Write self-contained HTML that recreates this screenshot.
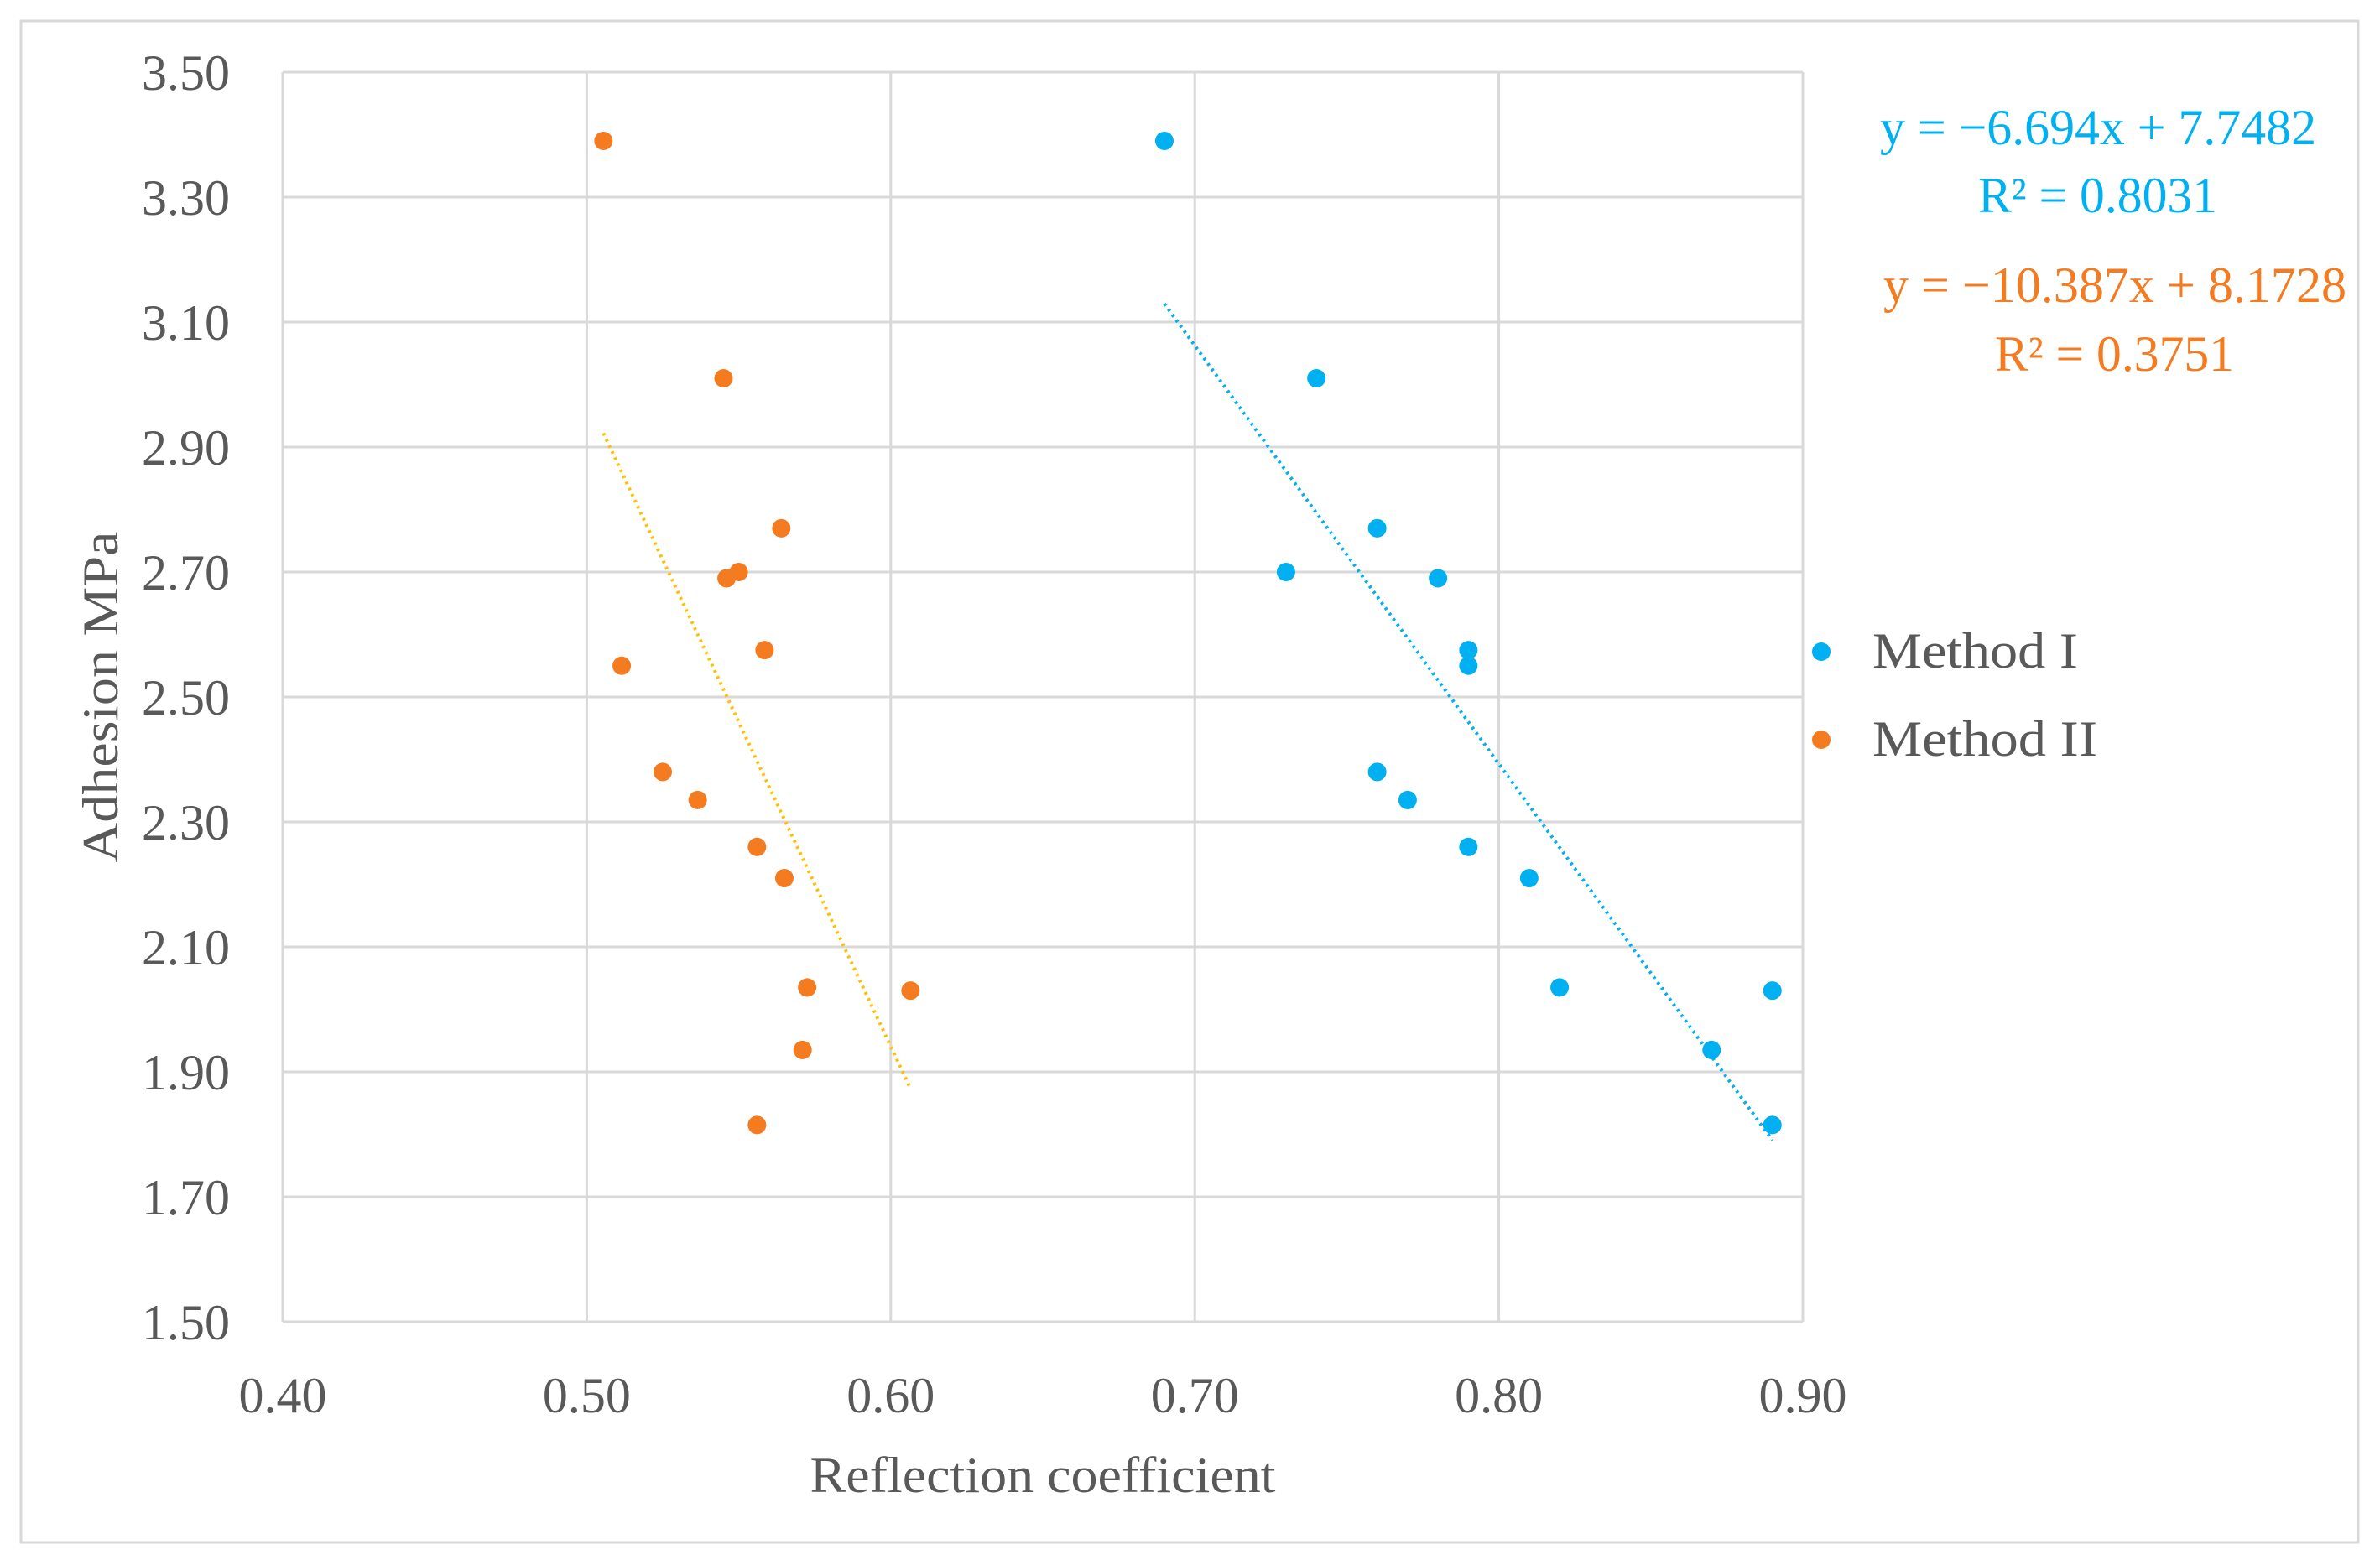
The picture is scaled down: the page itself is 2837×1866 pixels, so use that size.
<!DOCTYPE html>
<html><head><meta charset="utf-8"><style>
html,body{margin:0;padding:0;background:#fff;}
svg{display:block;font-family:"Liberation Serif",serif;}
</style></head><body>
<svg id="chart" width="2837" height="1866" viewBox="0 0 2837 1866" xmlns="http://www.w3.org/2000/svg">
<rect x="25" y="25" width="2786" height="1814" fill="#fff" stroke="#d9d9d9" stroke-width="3"/>
<g id="grid"></g>
<g id="marks"></g>
<g id="labels"></g>
<text x="1243" y="1779" font-size="60" fill="#595959" text-anchor="middle" textLength="555" lengthAdjust="spacingAndGlyphs">Reflection coefficient</text>
<text transform="translate(140,831) rotate(-90)" font-size="60" fill="#595959" text-anchor="middle" textLength="395" lengthAdjust="spacingAndGlyphs">Adhesion MPa</text>
<circle cx="2171" cy="777" r="11" fill="#00B0F0"/>
<text x="2232" y="796" font-size="60" fill="#595959" textLength="245" lengthAdjust="spacingAndGlyphs">Method I</text>
<circle cx="2171" cy="882" r="11" fill="#F47B20"/>
<text x="2232" y="901" font-size="60" fill="#595959" textLength="268" lengthAdjust="spacingAndGlyphs">Method II</text>
<text x="2241" y="172" font-size="60" fill="#00B0F0" textLength="520" lengthAdjust="spacingAndGlyphs">y = −6.694x + 7.7482</text>
<text x="2358" y="253" font-size="60" fill="#00B0F0" textLength="285" lengthAdjust="spacingAndGlyphs">R² = 0.8031</text>
<text x="2245" y="360" font-size="60" fill="#F47B20" textLength="552" lengthAdjust="spacingAndGlyphs">y = −10.387x + 8.1728</text>
<text x="2378" y="442" font-size="60" fill="#F47B20" textLength="285" lengthAdjust="spacingAndGlyphs">R² = 0.3751</text>
</svg>
<script>
const xTicks = [0.40, 0.50, 0.60, 0.70, 0.80, 0.90];
const yTicks = [1.50, 1.70, 1.90, 2.10, 2.30, 2.50, 2.70, 2.90, 3.10, 3.30, 3.50];
const method1X = [0.69, 0.74, 0.76, 0.73, 0.78, 0.79, 0.79, 0.76, 0.77, 0.79, 0.81, 0.82, 0.89, 0.87, 0.89];
const method1Y = [3.39, 3.01, 2.77, 2.70, 2.69, 2.575, 2.55, 2.38, 2.335, 2.26, 2.21, 2.035, 2.03, 1.935, 1.815];
const method2X = [0.5055, 0.545, 0.564, 0.55, 0.546, 0.5585, 0.5115, 0.525, 0.5365, 0.556, 0.565, 0.5725, 0.6065, 0.571, 0.556];
const method2Y = [3.39, 3.01, 2.77, 2.70, 2.69, 2.575, 2.55, 2.38, 2.335, 2.26, 2.21, 2.035, 2.03, 1.935, 1.815];
const trend1 = [-6.694, 7.7482];
const trend2 = [-10.387, 8.1728];

const NS = 'http://www.w3.org/2000/svg';
const L = 337, R = 2149, T = 86, B = 1576;
const xMin = 0.4, xMax = 0.9, yMin = 1.5, yMax = 3.5;
function sx(v){ return L + (v - xMin) / (xMax - xMin) * (R - L); }
function sy(v){ return B - (v - yMin) / (yMax - yMin) * (B - T); }
function mk(tag, attrs, parent){
  const e = document.createElementNS(NS, tag);
  for (const k in attrs) e.setAttribute(k, attrs[k]);
  parent.appendChild(e);
  return e;
}
const grid = document.getElementById('grid');
const marks = document.getElementById('marks');
const labels = document.getElementById('labels');

xTicks.forEach(t => {
  const g = mk('line', {x1: sx(t), x2: sx(t), y1: T, y2: B, stroke: '#d9d9d9', 'stroke-width': 3}, grid);
  
  
  const tx = mk('text', {x: sx(t), y: 1684, 'font-size': 60, fill: '#595959', 'text-anchor': 'middle', textLength: 105, lengthAdjust: 'spacingAndGlyphs'}, labels);
  tx.textContent = t.toFixed(2);
  
  
});
yTicks.forEach(t => {
  const g = mk('line', {x1: L, x2: R, y1: sy(t), y2: sy(t), stroke: '#d9d9d9', 'stroke-width': 3}, grid);
  
  
  const tx = mk('text', {x: 274, y: sy(t) + 21, 'font-size': 60, fill: '#595959', 'text-anchor': 'end', textLength: 105, lengthAdjust: 'spacingAndGlyphs'}, labels);
  tx.textContent = t.toFixed(2);
  
  
});

function trend(xs, coef, color, name){
  const x0 = Math.min(...xs), x1 = Math.max(...xs);
  const ln = mk('line', {x1: sx(x0), y1: sy(coef[0]*x0 + coef[1]), x2: sx(x1), y2: sy(coef[0]*x1 + coef[1]), stroke: color, 'stroke-width': 4, 'stroke-dasharray': '3 5'}, marks);
  
  
}
trend(method1X, trend1, '#00B0F0', 'trendline-method-1');
trend(method2X, trend2, '#FFC000', 'trendline-method-2');

function pts(xs, ys, color, name){
  xs.forEach((x, i) => {
    const c = mk('circle', {cx: sx(x), cy: sy(ys[i]), r: 11, fill: color}, marks);
    
    
  });
}
pts(method1X, method1Y, '#00B0F0', 'point-method-1');
pts(method2X, method2Y, '#F47B20', 'point-method-2');
</script>
</body></html>
